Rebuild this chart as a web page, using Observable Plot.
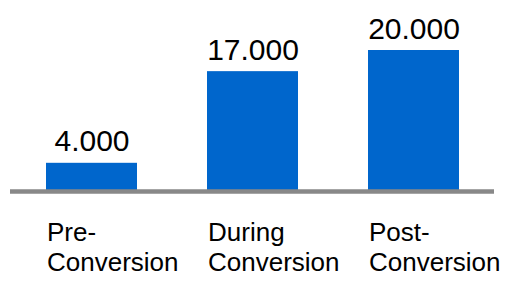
<!DOCTYPE html>
<html><head><meta charset="utf-8">
<script src="https://cdn.jsdelivr.net/npm/d3@7"></script>
<script src="https://cdn.jsdelivr.net/npm/@observablehq/plot@0.6"></script>
<style>body{margin:0;background:#fff}</style>
</head><body><div id="chart"></div>
<script>
const categories = ["Pre-\nConversion", "During\nConversion", "Post-\nConversion"];
const values = [4000, 17000, 20000];
const data = categories.map((c, i) => ({category: c, value: values[i]}));
const fmt = d3.formatLocale({decimal: ",", thousands: ".", grouping: [3], currency: ["", ""]}).format(",d");
const chart = Plot.plot({
  width: 508, height: 285,
  marginLeft: 10, marginRight: 14, marginTop: 50, marginBottom: 94,
  style: {fontFamily: "'Liberation Sans', Arial, sans-serif", background: "#fff", color: "#000"},
  x: {domain: categories, paddingInner: 0.435, paddingOuter: 0.217},
  y: {domain: [0, 20000], axis: null},
  marks: [
    Plot.barY(data, {x: "category", y: "value", fill: "#0066cc"}),
    Plot.ruleY([0], {stroke: "#888888", strokeWidth: 4.5}),
    Plot.text(data, {x: "category", y: "value", text: d => fmt(d.value), lineAnchor: "bottom", dy: -12, fontSize: 30, fill: "#000"}),
    Plot.axisX({tickSize: 0, tickPadding: 28, textAnchor: "start", dx: -45, fontSize: 26, lineHeight: 1.15, fill: "#000", label: null})
  ]
});
document.getElementById("chart").appendChild(chart);
</script>
</body></html>
